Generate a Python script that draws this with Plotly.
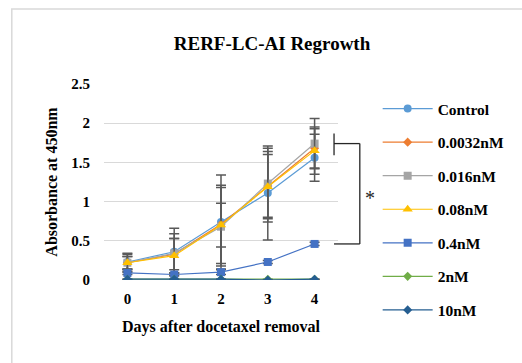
import plotly.graph_objects as go

days = ["0", "1", "2", "3", "4"]
series_names = ["Control", "0.0032nM", "0.016nM", "0.08nM", "0.4nM", "2nM", "10nM"]
control = [0.23, 0.36, 0.74, 1.11, 1.56]
c0032 = [0.22, 0.33, 0.71, 1.20, 1.68]
c016 = [0.22, 0.34, 0.68, 1.23, 1.74]
c08 = [0.22, 0.31, 0.70, 1.19, 1.65]
c04 = [0.09, 0.07, 0.10, 0.23, 0.46]
c2 = [0.01, 0.01, 0.01, 0.01, 0.01]
c10 = [0.01, 0.01, 0.01, 0.00, 0.01]
err_control = [0.10, 0.30, 0.60, 0.60, 0.30]
err_0032 = [0.08, 0.20, 0.50, 0.40, 0.25]
err_016 = [0.12, 0.25, 0.50, 0.45, 0.32]
err_08 = [0.08, 0.22, 0.28, 0.45, 0.30]
err_04 = [0.02, 0.02, 0.03, 0.02, 0.02]
err_2 = [0.0, 0.0, 0.0, 0.0, 0.0]
err_10 = [0.0, 0.0, 0.0, 0.0, 0.0]
y_ticks = [0, 0.5, 1, 1.5, 2, 2.5]
y_tick_labels = ["0", "0.5", "1", "1.5", "2", "2.5"]

values = [control, c0032, c016, c08, c04, c2, c10]
errors = [err_control, err_0032, err_016, err_08, err_04, err_2, err_10]
colors = ["#5B9BD5", "#ED7D31", "#A5A5A5", "#FFC000", "#4472C4", "#70AD47", "#255E91"]
symbols = ["circle", "diamond", "square", "triangle-up", "square", "diamond", "diamond"]
sizes = [8, 7, 8, 9, 8, 7, 7]

FONT = "Liberation Serif"

fig = go.Figure()
for i, name in enumerate(series_names):
    fig.add_trace(go.Scatter(
        x=days, y=values[i], name="<b>%s</b>" % name, mode="lines+markers",
        legendgroup=name,
        line=dict(color=colors[i], width=1.2),
        marker=dict(color=colors[i], symbol=symbols[i], size=sizes[i]),
        error_y=dict(type="data", array=errors[i], visible=True,
                     color="#595959", thickness=1.5, width=5),
    ))

# significance bracket
xl = (336 - 104) / 236
xr = (362 - 104) / 236
ytop = c016[4]
ybot = c04[4]
bracket = dict(color="#262626", width=1.3)
fig.add_shape(type="line", xref="paper", yref="y", x0=xl, x1=xr, y0=ytop, y1=ytop, line=bracket)
fig.add_shape(type="line", xref="paper", yref="y", x0=xr, x1=xr, y0=ytop, y1=ybot, line=bracket)
fig.add_shape(type="line", xref="paper", yref="y", x0=xl, x1=xr, y0=ybot, y1=ybot, line=bracket)
fig.add_shape(type="line", xref="paper", yref="y", x0=xl, x1=xl, y0=ytop + 0.13, y1=ytop - 0.15, line=bracket)
fig.add_annotation(text="*", xref="paper", yref="y", x=(379 - 104) / 236, y=(ytop + ybot) / 2 - 0.06,
                   showarrow=False, font=dict(family=FONT, size=20, color="#262626"))

# chart area border
fig.add_shape(type="rect", xref="paper", yref="paper",
              x0=(11 - 104) / 236, x1=2.0, y0=-2.0, y1=1 + (84 - 9) / 196,
              line=dict(color="#D9D9D9", width=1.5), layer="below")

fig.update_layout(
    width=522, height=363,
    margin=dict(l=104, r=182, t=84, b=83),
    paper_bgcolor="white", plot_bgcolor="white",
    font=dict(family=FONT, size=15, color="black"),
    title=dict(text="<b>RERF-LC-AI Regrowth</b>", x=272 / 522, xref="container",
               y=1 - 43 / 363, yref="container", xanchor="center", yanchor="middle",
               font=dict(family=FONT, size=19, color="black")),
    xaxis=dict(type="category", range=[-0.5, 4.5], showgrid=False, showline=False,
               zeroline=False, ticks="", tickfont=dict(family=FONT, size=15),
               tickprefix="<b>", ticksuffix="</b>", ticklabelstandoff=8,
               title=dict(text="<b>Days after docetaxel removal</b>", standoff=14,
                          font=dict(family=FONT, size=16))),
    yaxis=dict(range=[0, 2.5], tickvals=y_ticks, ticktext=["<b>%s</b>" % t for t in y_tick_labels],
               showgrid=True, gridcolor="#D9D9D9", gridwidth=1, zeroline=False,
               showline=False, ticks="", ticklabelstandoff=13,
               tickfont=dict(family=FONT, size=15),
               title=dict(text="<b>Absorbance at 450nm</b>", standoff=9,
                          font=dict(family=FONT, size=16))),
    legend=dict(x=(380 - 104) / 236, xanchor="left", y=1 + (84 - 92) / 196, yanchor="top",
                font=dict(family=FONT, size=15.5), tracegroupgap=10.4, itemwidth=50,
                maxheight=340, bgcolor="rgba(0,0,0,0)"),
    showlegend=True,
)

fig.write_html("out.html", config={"displayModeBar": False},
               post_script="document.body.style.margin='0';document.body.style.overflow='hidden';")
